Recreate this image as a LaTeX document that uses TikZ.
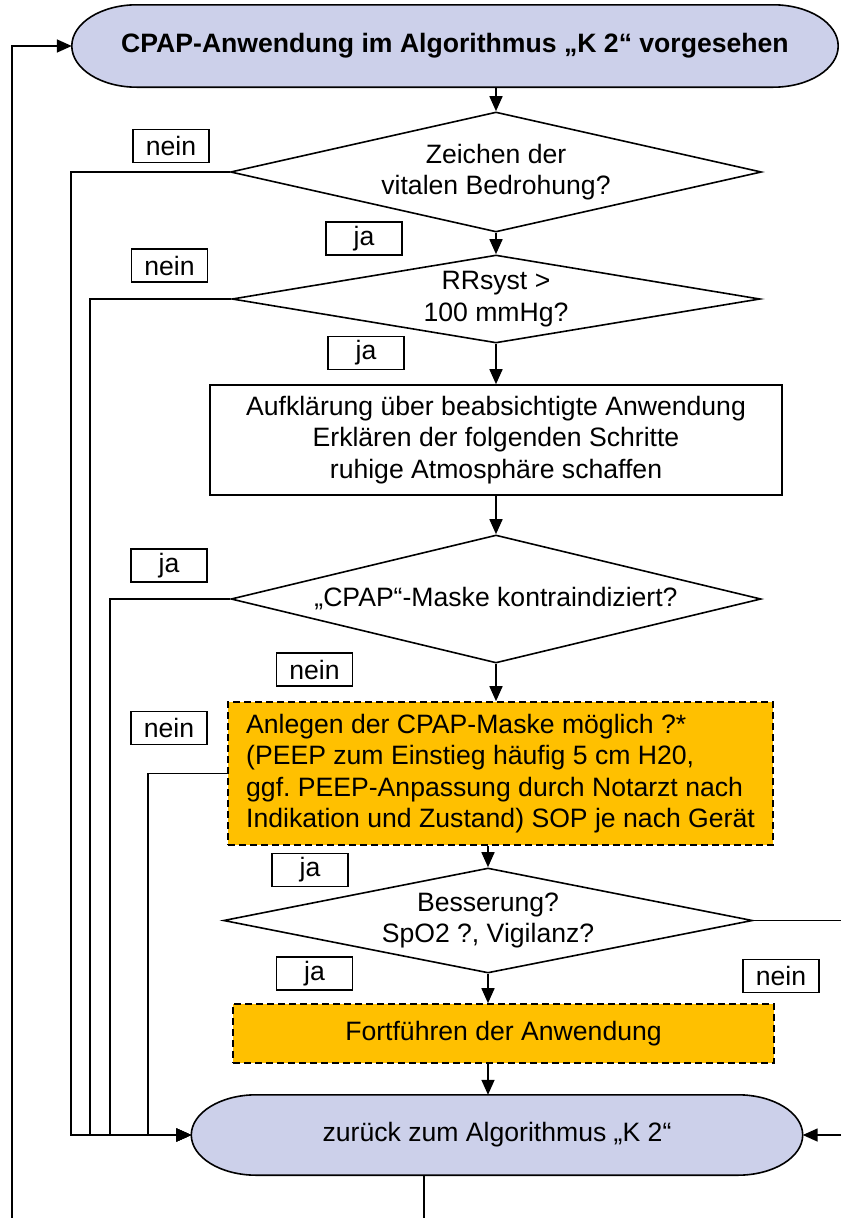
\documentclass[tikz,border=0pt]{standalone}
\usepackage{fontspec}
\setmainfont{Liberation Sans}
\usetikzlibrary{shapes.geometric,arrows.meta,calc,backgrounds}
\definecolor{termblue}{RGB}{204,208,234}
\definecolor{actorange}{RGB}{255,192,0}
\tikzset{
  every node/.style={font=\fontsize{26.6pt}{31.5pt}\selectfont, inner sep=0pt},
  conn/.style={line width=1.6pt},
  arr/.style={conn, -{Triangle[length=15pt,width=13pt]}},
  tag/.style={draw, fill=white, line width=1.4pt, minimum width=76pt, minimum height=33pt},
  termnode/.style={rectangle, align=center},
  termshape/.style={draw, fill=termblue, line width=1.6pt},
  dec/.style={diamond, draw, line width=1.6pt, align=center},
  proc/.style={rectangle, draw, line width=1.6pt, align=center},
  act/.style={rectangle, draw, fill=actorange, line width=1.6pt, dash pattern=on 7pt off 4pt},
}
% stadium outline with elliptical ends behind a node: #1 node name, #2 end radius
\newcommand\stadium[2]{%
  \begin{scope}[on background layer]
    \path[termshape] let \p1=(#1.north east), \p2=(#1.south west), \n1={(\y1-\y2)/2} in
      (\x2+#2,\y1) -- (\x1-#2,\y1)
      arc[start angle=90, end angle=-90, x radius=#2, y radius=\n1]
      -- (\x2+#2,\y2)
      arc[start angle=270, end angle=90, x radius=#2, y radius=\n1] -- cycle;
  \end{scope}}
\begin{document}
\frenchspacing
\begin{tikzpicture}[x=1pt, y=-1pt]
\useasboundingbox (0,0) rectangle (841,1218);

% terminals
\node[termnode, minimum width=766pt, minimum height=82pt] (start) at (455,46)
  {\bfseries CPAP-Anwendung im Algorithmus „K 2“ vorgesehen};
\stadium{start}{65pt}
\node[termnode, minimum width=611pt, minimum height=80pt] (stop) at (497,1135)
  {zurück zum Algorithmus „K 2“};
\stadium{stop}{65pt}

% decisions and steps
\node[dec, minimum width=531pt, minimum height=120pt, aspect=4.4] (d1) at (496,172)
  {Zeichen der\\vitalen Bedrohung?};
\node[dec, minimum width=528pt, minimum height=88pt, aspect=6] (d2) at (496,299)
  {\raisebox{-5pt}{\begin{tabular}{@{}c@{}}RRsyst >\\100 mmHg?\end{tabular}}};
\node[proc, minimum width=572pt, minimum height=110pt] (info) at (496,440)
  {Aufklärung über beabsichtigte Anwendung\\Erklären der folgenden Schritte\\ruhige Atmosphäre schaffen};
\node[dec, minimum width=530pt, minimum height=128pt, aspect=4.1] (d3) at (496,599)
  {„CPAP“-Maske kontraindiziert?};
\node[act, minimum width=545pt, minimum height=143pt, align=left] (o1) at (500.5,773.5)
  {Anlegen der CPAP-Maske möglich ?*\\(PEEP zum Einstieg häufig 5 cm H20,\\ggf. PEEP-Anpassung durch Notarzt nach\\Indikation und Zustand) SOP je nach Gerät};
\node[dec, minimum width=529pt, minimum height=105pt, aspect=5] (d4) at (488,920.5)
  {Besserung?\\SpO2 ?, Vigilanz?};
\node[act, minimum width=541pt, minimum height=59pt] (o2) at (503.5,1033.5)
  {Fortführen der Anwendung};

% answer tags
\node[tag] (n1) at (171,146) {nein};
\node[tag] (j1) at (364,238.5) {ja};
\node[tag] (n2) at (169.5,265.5) {nein};
\node[tag] (j2) at (366,353) {ja};
\node[tag] (j3) at (169,565.5) {ja};
\node[tag] (n3) at (314.5,669.5) {nein};
\node[tag] (n4) at (169,728) {nein};
\node[tag] (j4) at (310,870) {ja};
\node[tag] (j5) at (314.5,973.5) {ja};
\node[tag] (n5) at (781,976) {nein};

% rails and loose ends
\coordinate (railA) at (71,0);
\coordinate (railB) at (90,0);
\coordinate (railC) at (110,0);
\coordinate (railD) at (148,0);
\coordinate (rightedge) at (841,0);
\coordinate (botpt) at (424,1218);
\coordinate (leftpt) at (12,1218);

% main flow
\draw[arr] (start.south -| d1.north) -- (d1.north);
\draw[arr] (d1.south) -- (d2.north);
\draw[arr] (d2.south) -- (info.north);
\draw[arr] (info.south) -- (d3.north);
\draw[arr] (d3.south) -- (d3.south |- o1.north);
\draw[arr] (o1.south -| d4.north) -- (d4.north);
\draw[arr] (d4.south) -- (d4.south |- o2.north);
\draw[arr] (o2.south -| d4.south) -- (stop.north -| d4.south);

% exits to the end terminal
\draw[arr] (d1.west) -- (d1.west -| railA) |- (stop.west);
\draw[arr] (d2.west) -- (d2.west -| railB) |- (stop.west);
\draw[arr] (d3.west) -- (d3.west -| railC) |- (stop.west);
\draw[arr] (o1.west) -- (o1.west -| railD) |- (stop.west);
\draw[conn] (d4.east) -- (d4.east -| rightedge);
\draw[arr] (stop.east -| rightedge) -- (stop.east);

% loop back to the start
\draw[conn] (stop.south -| botpt) -- (botpt);
\draw[arr] (leftpt) |- (start.west);
\end{tikzpicture}
\end{document}
